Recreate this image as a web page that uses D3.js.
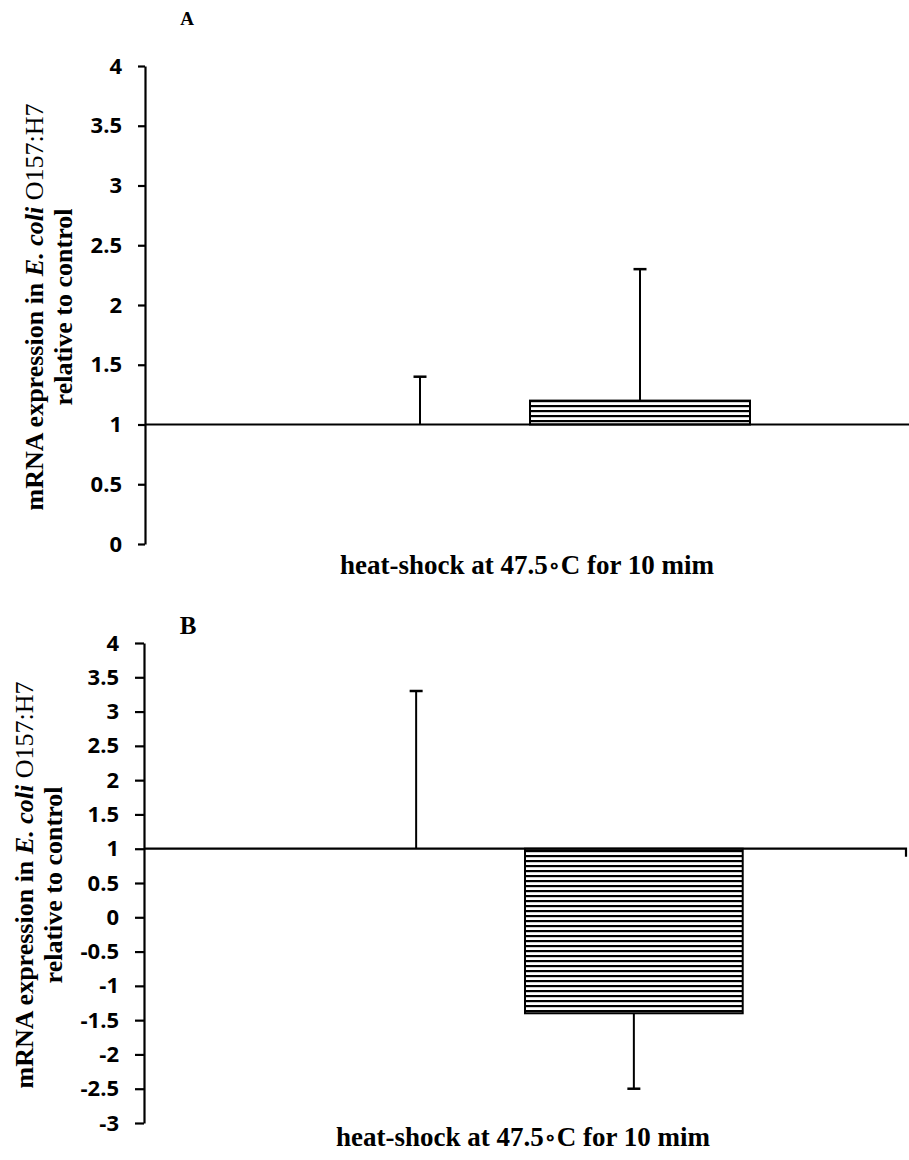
<!DOCTYPE html>
<html>
<head>
<meta charset="utf-8">
<script src="https://cdn.jsdelivr.net/npm/d3@7"></script>
<style>
  body { margin: 0; background: #fff; }
  svg { display: block; }
  .tick text { font-family: "Open Sans", sans-serif; font-weight: 700; font-size: 22px; fill: #000; }
  .title { font-family: "Liberation Serif", "Times New Roman", serif; font-weight: bold; fill: #000; }
</style>
</head>
<body>
<svg width="909" height="1160"></svg>
<script>
let svg = d3.select("svg");

// one category, two series (control vs heat-shock)
const category = "heat-shock at 47.5∘C for 10 mim";
const series = ["control", "heat-shock"];

// panel A
const valuesA = [1, 1.2];
const errorsA = [0.4, 1.1];
const ticksA = [0, 0.5, 1, 1.5, 2, 2.5, 3, 3.5, 4];

// panel B
const valuesB = [1, -1.4];
const errorsB = [2.3, 1.1];
const ticksB = [-3, -2.5, -2, -1.5, -1, -0.5, 0, 0.5, 1, 1.5, 2, 2.5, 3, 3.5, 4];

const crossAt = 1; // horizontal axis crosses the value axis at 1

// horizontal stripes for the treated bar
let defs = svg.append("defs");
let pat = defs.append("pattern")
    .attr("id", "stripes")
    .attr("patternUnits", "userSpaceOnUse")
    .attr("width", 10).attr("height", 5);
pat.append("rect").attr("width", 10).attr("height", 5).attr("fill", "#fff");
pat.append("rect").attr("y", 0).attr("width", 10).attr("height", 2.2).attr("fill", "#000");

let fmt = d => String(d);

let draw_panel = (p) => {
  let g = svg.append("g");

  let x0 = d3.scaleBand().domain([category]).range([p.left, p.right]);
  let x1 = d3.scaleBand().domain(series)
    .range([x0(category), x0(category) + x0.bandwidth()])
    .paddingInner(0).paddingOuter(0.75);
  let y = d3.scaleLinear().domain(p.domain).range([p.bottom, p.top]);

  // value axis
  let yAxis = g.append("g")
      .attr("transform", `translate(${p.left},0)`)
      .call(d3.axisLeft(y).tickValues(p.ticks).tickFormat(fmt)
        .tickSize(p.tickLen).tickSizeOuter(0).tickPadding(p.pad));
  yAxis.select(".domain").attr("stroke-width", 2.2);
  yAxis.selectAll(".tick line").attr("stroke-width", 2.2);

  // bars, drawn from the crossing value
  g.selectAll("rect.bar")
    .data(p.values)
    .enter().append("rect")
      .attr("class", "bar")
      .attr("x", (d, i) => x1(series[i]))
      .attr("width", x1.bandwidth())
      .attr("y", d => y(Math.max(d, crossAt)))
      .attr("height", d => Math.abs(y(d) - y(crossAt)))
      .attr("fill", "url(#stripes)")
      .attr("stroke", "#000")
      .attr("stroke-width", d => d === crossAt ? 0 : 2);

  // horizontal axis line at y = 1
  g.append("path")
    .attr("d", `M${p.left},${y(crossAt)}H${p.right}v${p.endTick}`)
    .attr("fill", "none")
    .attr("stroke", "#000")
    .attr("stroke-width", 2.2);

  // one-sided error bars, pointing away from the crossing value
  let err = g.selectAll("g.err")
    .data(p.values.map((v, i) => ({ v: v, e: p.errors[i], s: series[i] })))
    .enter().append("g")
      .attr("class", "err");
  let cx = d => x1(d.s) + x1.bandwidth() / 2;
  let end = d => d.v >= crossAt ? d.v + d.e : d.v - d.e;
  err.append("line")
    .attr("x1", cx).attr("x2", cx)
    .attr("y1", d => y(d.v)).attr("y2", d => y(end(d)))
    .attr("stroke", "#000").attr("stroke-width", 2);
  err.append("line")
    .attr("x1", d => cx(d) - 6.5).attr("x2", d => cx(d) + 6.5)
    .attr("y1", d => y(end(d))).attr("y2", d => y(end(d)))
    .attr("stroke", "#000").attr("stroke-width", 2.5);

  // panel letter
  g.append("text")
    .attr("class", "title")
    .attr("x", p.letterX).attr("y", p.letterY)
    .attr("text-anchor", "middle")
    .style("font-size", p.letterSize + "px")
    .text(p.letter);

  // value axis title, two lines
  let t1 = g.append("text")
    .attr("class", "title")
    .attr("transform", `translate(${p.t1x},${p.t1y}) rotate(-90)`)
    .attr("text-anchor", "middle")
    .style("font-size", p.tsize + "px");
  t1.append("tspan").text("mRNA expression in ");
  t1.append("tspan").style("font-style", "italic").text("E. coli");
  t1.append("tspan").style("font-weight", "normal").text(" O157:H7");

  g.append("text")
    .attr("class", "title")
    .attr("transform", `translate(${p.t2x},${p.t2y}) rotate(-90)`)
    .attr("text-anchor", "middle")
    .style("font-size", p.tsize + "px")
    .text("relative to control");

  // category title
  let ct = g.append("text")
    .attr("class", "title")
    .attr("x", p.catX).attr("y", p.catY)
    .attr("text-anchor", "middle")
    .style("font-size", "27px");
  let parts = category.split("∘");
  ct.append("tspan").text(parts[0]);
  ct.append("tspan").style("font-size", "20px").attr("dy", -1).text("∘");
  ct.append("tspan").attr("dy", 1).text(parts[1]);
}

draw_panel({
  values: valuesA, errors: errorsA, ticks: ticksA, domain: [0, 4],
  left: 145, right: 915, top: 66, bottom: 544,
  tickLen: 7, pad: 16, endTick: 8,
  letter: "A", letterX: 187, letterY: 25, letterSize: 19,
  t1x: 43, t1y: 307, t2x: 72, t2y: 307, tsize: 26,
  catX: 527, catY: 574
});

draw_panel({
  values: valuesB, errors: errorsB, ticks: ticksB, domain: [-3, 4],
  left: 144, right: 906, top: 643, bottom: 1123,
  tickLen: 9, pad: 16, endTick: 8,
  letter: "B", letterX: 188, letterY: 634, letterSize: 25,
  t1x: 33, t1y: 885, t2x: 62, t2y: 885, tsize: 26,
  catX: 523, catY: 1146
});
</script>
</body>
</html>
